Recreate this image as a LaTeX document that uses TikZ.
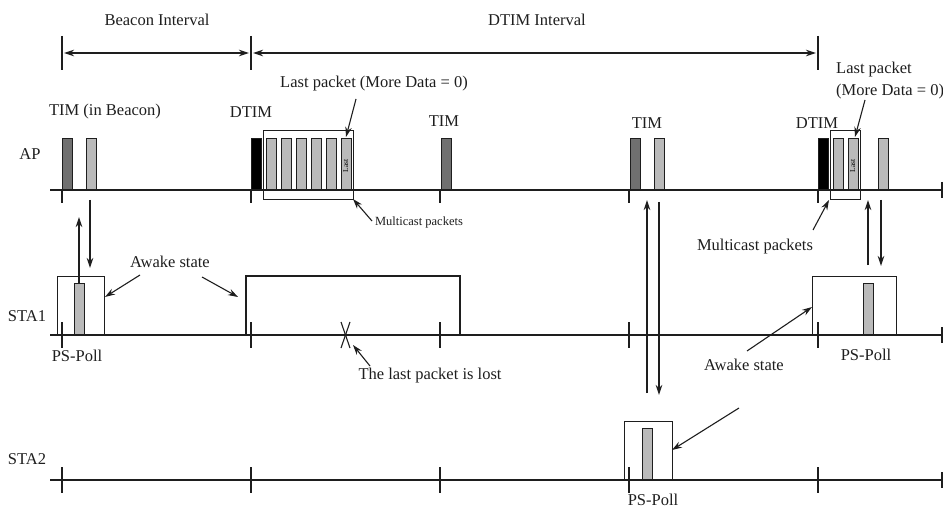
\documentclass[tikz,border=0pt]{standalone}
\usepackage{fontspec}
\setmainfont{Liberation Serif}
\usetikzlibrary{arrows.meta}
\definecolor{ink}{HTML}{1E1E1E}
\definecolor{darkpkt}{HTML}{707070}
\definecolor{lightpkt}{HTML}{BABABA}
\tikzset{
  lbl/.style={font=\fontsize{16.5}{18}\selectfont, text=ink, inner sep=0pt},
  smalllbl/.style={font=\fontsize{12.5}{14}\selectfont, text=ink, inner sep=0pt},
  axisline/.style={draw=ink, line width=1.3pt},
  tickline/.style={draw=ink, line width=1.1pt},
  pktbase/.style={draw=ink, line width=1pt, inner sep=0pt, anchor=south west, minimum width=9.5pt},
  tallpkt/.style={pktbase, minimum height=51pt},
  darkp/.style={tallpkt, fill=darkpkt},
  lightp/.style={tallpkt, fill=lightpkt},
  blackp/.style={tallpkt, fill=black},
  stapkt/.style={pktbase, fill=lightpkt, minimum height=51pt},
  frame/.style={draw=ink, line width=1.2pt, inner sep=0pt, anchor=north west},
  arr/.style={draw=ink, line width=1.1pt, -{Stealth[length=10pt,width=6.5pt]}},
  darr/.style={draw=ink, line width=1.1pt, {Stealth[length=10pt,width=6.5pt]}-{Stealth[length=10pt,width=6.5pt]}},
}
\begin{document}
\begin{tikzpicture}[x=1pt,y=-1pt]
\useasboundingbox (0,0) rectangle (943,508);

% ---------- top interval markers ----------
\coordinate (t0a) at (62,36);  \coordinate (t0b) at (62,70);
\coordinate (t1a) at (251,36); \coordinate (t1b) at (251,70);
\coordinate (t2a) at (818,36); \coordinate (t2b) at (818,70);
\draw[tickline] (t0a) -- (t0b);
\draw[tickline] (t1a) -- (t1b);
\draw[tickline] (t2a) -- (t2b);
\coordinate (bi1) at (64,53);  \coordinate (bi2) at (249,53);
\coordinate (di1) at (253,53); \coordinate (di2) at (816,53);
\draw[darr] (bi1) -- (bi2);
\draw[darr] (di1) -- (di2);
\node[lbl] (beaconlbl) at (157,20) {Beacon Interval};
\node[lbl] (dtimlbl) at (537,20) {DTIM Interval};

% ---------- axes ----------
\coordinate (apS) at (50,190);  \coordinate (apE) at (942,190);
\coordinate (s1S) at (50,335);  \coordinate (s1E) at (942,335);
\coordinate (s2S) at (50,480);  \coordinate (s2E) at (942,480);
\draw[axisline] (apS) -- (apE);
\draw[axisline] (s1S) -- (s1E);
\draw[axisline] (s2S) -- (s2E);
\draw[tickline] (942,182) -- (942,198);
\draw[tickline] (942,327) -- (942,343);
\draw[tickline] (942,472) -- (942,488);
\foreach \x in {62,251,440,629,818}{
  \draw[tickline] (\x,190) -- (\x,203);
  \draw[tickline] (\x,322) -- (\x,348);
  \draw[tickline] (\x,467) -- (\x,493);
}

\node[lbl] (aplbl) at (30,154) {AP};
\node[lbl] (sta1lbl) at (27,316) {STA1};
\node[lbl] (sta2lbl) at (27,459) {STA2};

% ---------- AP packets ----------
\node[darkp]  (ap1) at (62,190) {};
\node[lightp] (ap2) at (86,190) {};
\node[blackp] (ap3) at (251,190) {};
\node[lightp] (m1) at (266,190) {};
\node[lightp] (m2) at (281,190) {};
\node[lightp] (m3) at (296,190) {};
\node[lightp] (m4) at (311,190) {};
\node[lightp] (m5) at (326,190) {};
\node[lightp] (m6) at (341,190) {};
\node[font=\fontsize{7.5}{8}\selectfont, rotate=90, inner sep=0pt] (m6txt) at (345.8,166) {Last};
\node[darkp]  (ap4) at (441,190) {};
\node[darkp]  (ap5) at (630,190) {};
\node[lightp] (ap6) at (654,190) {};
\node[blackp] (ap7) at (818,190) {};
\node[lightp] (n1) at (833,190) {};
\node[lightp] (n2) at (848,190) {};
\node[font=\fontsize{7.5}{8}\selectfont, rotate=90, inner sep=0pt] (n2txt) at (852.8,166) {Last};
\node[lightp] (ap8) at (878,190) {};

% multicast frames
\node[frame, minimum width=90pt, minimum height=69pt] (mbox1) at (263,130) {};
\node[frame, minimum width=30pt, minimum height=69pt] (mbox2) at (830,130) {};

% AP labels
\node[lbl] (timb) at (105,112) {TIM (in Beacon)};
\node[lbl] (dtim1) at (251,112) {DTIM};
\node[lbl] (lastp1) at (374,84) {Last packet (More Data = 0)};
\node[lbl] (tim2) at (444,121) {TIM};
\node[lbl] (tim3) at (647,123) {TIM};
\node[lbl] (dtim2) at (817,123) {DTIM};
\node[lbl, anchor=west] (lastp2) at (836,70) {Last packet};
\node[lbl, anchor=west] (moredata2) at (836,92) {(More Data = 0)};
\node[smalllbl] (mc1) at (419,222) {Multicast packets};
\node[lbl] (mc2) at (755,247) {Multicast packets};

\coordinate (lp1a) at (356,99);  \coordinate (lp1b) at (346,137);
\coordinate (lp2a) at (865,100); \coordinate (lp2b) at (855,137);
\draw[arr] (lp1a) -- (lp1b);
\draw[arr] (lp2a) -- (lp2b);
\coordinate (mc1a) at (372,221); \coordinate (mc1b) at (353,199);
\coordinate (mc2a) at (813,230); \coordinate (mc2b) at (829,200);
\draw[arr] (mc1a) -- (mc1b);
\draw[arr] (mc2a) -- (mc2b);

% ---------- STA1 ----------
\node[frame, minimum width=47pt, minimum height=59pt] (awake1) at (57,276) {};
\node[stapkt] (ps1) at (74,335) {};
\draw[draw=ink, line width=1.2pt] (246,335) -- (246,276) -- (460,276) -- (460,335);
\node[frame, minimum width=84pt, minimum height=59pt] (awake3) at (812,276) {};
\node[stapkt] (ps3) at (863,335) {};

\node[lbl] (awl1) at (170,262) {Awake state};
\node[lbl] (awl2) at (744,365) {Awake state};
\node[lbl] (pp1) at (77,356) {PS-Poll};
\node[lbl] (pp3) at (866,355) {PS-Poll};
\node[lbl] (lost) at (430,376) {The last packet is lost};

\coordinate (aw1a) at (140,275); \coordinate (aw1b) at (105,297);
\coordinate (aw2a) at (202,277); \coordinate (aw2b) at (238,297);
\coordinate (aw3a) at (747,351); \coordinate (aw3b) at (812,307);
\draw[arr] (aw1a) -- (aw1b);
\draw[arr] (aw2a) -- (aw2b);
\draw[arr] (aw3a) -- (aw3b);

% lost packet X
\coordinate (xa) at (341,322); \coordinate (xb) at (350,348);
\coordinate (xc) at (350,322); \coordinate (xd) at (341,348);
\draw[tickline] (xa) -- (xb);
\draw[tickline] (xc) -- (xd);
\coordinate (lostA) at (370,366); \coordinate (lostB) at (353,345);
\draw[arr] (lostA) -- (lostB);

% ---------- STA2 ----------
\node[frame, minimum width=48pt, minimum height=59pt] (awake4) at (624,421) {};
\node[stapkt] (ps2) at (642,480) {};
\node[lbl, anchor=south] (pp2) at (653,506) {PS-Poll};
\coordinate (aw4a) at (739,408); \coordinate (aw4b) at (672,450);
\draw[arr] (aw4a) -- (aw4b);

% ---------- vertical exchange arrows ----------
\coordinate (u1a) at (79,284);  \coordinate (u1b) at (79,217);
\coordinate (d1a) at (90,200);  \coordinate (d1b) at (90,268);
\draw[arr] (u1a) -- (u1b);
\draw[arr] (d1a) -- (d1b);
\coordinate (u2a) at (647,393); \coordinate (u2b) at (647,200);
\coordinate (d2a) at (659,202); \coordinate (d2b) at (659,395);
\draw[arr] (u2a) -- (u2b);
\draw[arr] (d2a) -- (d2b);
\coordinate (u3a) at (868,265); \coordinate (u3b) at (868,200);
\coordinate (d3a) at (881,200); \coordinate (d3b) at (881,266);
\draw[arr] (u3a) -- (u3b);
\draw[arr] (d3a) -- (d3b);
\end{tikzpicture}
\end{document}
